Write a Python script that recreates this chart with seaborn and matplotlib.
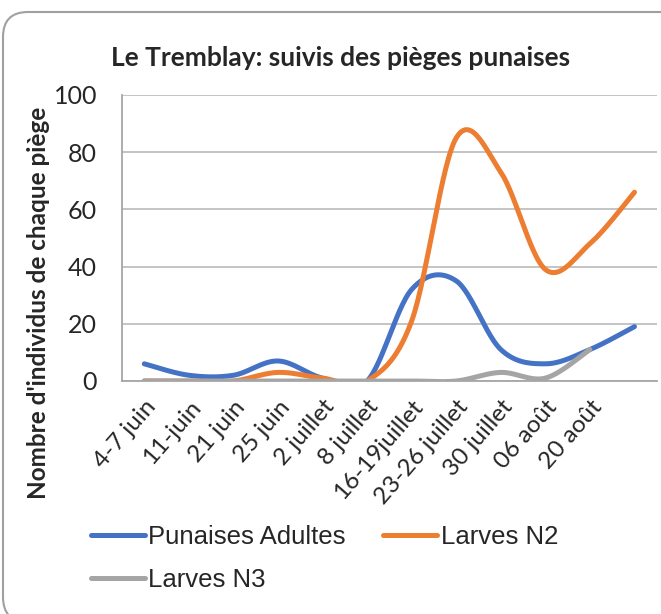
import matplotlib
matplotlib.use("Agg")
import matplotlib.pyplot as plt
import numpy as np
import seaborn as sns
from matplotlib.patches import FancyBboxPatch
from matplotlib.transforms import IdentityTransform

# --- données ---
categories = ["4-7 juin", "11-juin", "21 juin", "25 juin", "2 juillet", "8 juillet",
              "16-19juillet", "23-26 juillet", "30 juillet", "06 août", "20 août", ""]
adultes = [6, 2, 2, 7, 1, 0, 32, 35, 11, 6, 11, 19]
larves_n2 = [0, 0, 0, 3, 1, 0, 21, 85, 73, 39, 48, 66]
larves_n3 = [0, 0, 0, 0, 0, 0, 0, 0, 3, 1, 11, np.nan]

series = [
    ("Punaises Adultes", adultes, "#4472C4"),
    ("Larves N2", larves_n2, "#ED7D31"),
    ("Larves N3", larves_n3, "#A5A5A5"),
]

sns.set_theme(style="white")
plt.rcParams["font.family"] = ["Lato", "DejaVu Sans"]


def smooth(values, n=30):
    """Courbe lissée type Excel (Catmull-Rom) à travers les points."""
    y = np.asarray(values, dtype=float)
    y = y[~np.isnan(y)]
    x = np.arange(len(y), dtype=float)
    pts = np.column_stack([x, y])
    pts = np.vstack([pts[0], pts, pts[-1]])
    out = []
    for i in range(1, len(pts) - 2):
        p0, p1, p2, p3 = pts[i - 1], pts[i], pts[i + 1], pts[i + 2]
        t = np.linspace(0, 1, n, endpoint=False)[:, None]
        seg = 0.5 * ((2 * p1) + (-p0 + p2) * t + (2 * p0 - 5 * p1 + 4 * p2 - p3) * t ** 2
                     + (-p0 + 3 * p1 - 3 * p2 + p3) * t ** 3)
        out.append(seg)
    out.append(pts[-2][None, :])
    out = np.vstack(out)
    return out[:, 0], out[:, 1]


fig = plt.figure(figsize=(6.61, 6.14), dpi=100)
ax = fig.add_axes([0.1846, 0.3795, 0.809, 0.4658])

for name, vals, color in series:
    xs, ys = smooth(vals)
    sns.lineplot(x=xs, y=ys, ax=ax, color=color, linewidth=3.6, label=name,
                 sort=False, estimator=None, solid_capstyle="round")

ax.set_xlim(-0.5, len(categories) - 0.5)
ax.set_ylim(0, 100)
ax.set_yticks(range(0, 101, 20))
ax.set_xticks(range(len(categories)))
ax.set_xticklabels(categories, rotation=49, ha="right", va="top",
                   rotation_mode="anchor", fontsize=17.5)
ax.tick_params(axis="y", labelsize=18, pad=18, length=0)
ax.tick_params(axis="x", pad=11, length=0)
ax.yaxis.grid(True, color="#BFBFBF", linewidth=1.3)
ax.set_axisbelow(True)
for side in ["top", "right"]:
    ax.spines[side].set_visible(False)
for side in ["left", "bottom"]:
    ax.spines[side].set_color("#A6A6A6")
    ax.spines[side].set_linewidth(1.3)

ax.legend_.remove()
handles, labels = ax.get_legend_handles_labels()
order = [0, 2, 1]  # rangées : Adultes / N2, puis N3
fig.legend([handles[i] for i in order], [labels[i] for i in order], ncol=2,
           loc="upper left", bbox_to_anchor=(0.102, 0.182),
           frameon=False, handlelength=2.1, handletextpad=0.15,
           columnspacing=1.45, labelspacing=0.72,
           prop={"family": ["Liberation Sans", "DejaVu Sans"], "size": 18.5})

fig.text(0.515, 0.905, "Le Tremblay: suivis des pièges punaises", ha="center", va="center",
         fontsize=19, fontweight="bold")
fig.text(0.058, 0.506, "Nombre d'individus de chaque piège", rotation=90, ha="center",
         va="center", fontsize=17.5, fontweight="bold")

border = FancyBboxPatch((3, -8), 800, 610, boxstyle="round,pad=0,rounding_size=25",
                        transform=IdentityTransform(), facecolor="none",
                        edgecolor="#A0A0A0", linewidth=1.5)
fig.patches.append(border)

fig.savefig("out.png", dpi=100)
plt.close(fig)
